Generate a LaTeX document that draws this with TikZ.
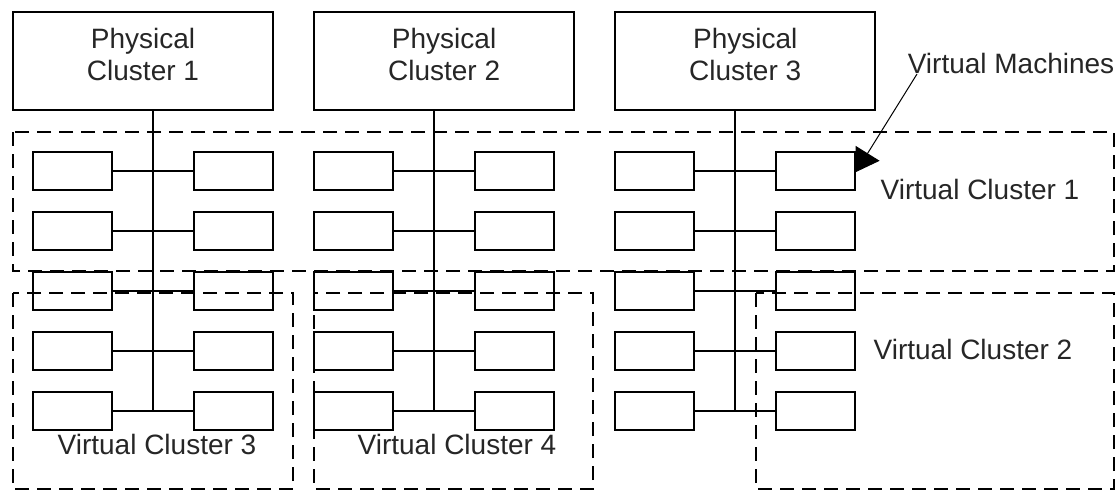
\documentclass[tikz,border=0pt]{standalone}
\usepackage{fontspec}
\setmainfont{Liberation Sans}
\usetikzlibrary{arrows.meta, positioning}

\begin{document}
\begin{tikzpicture}[
    x=1pt, y=-1pt,
    line width=1.6pt,
    text=black!85,
    font=\fontsize{28}{32}\selectfont,
    fisico/.style={draw, rectangle, minimum width=260pt, minimum height=98pt, align=center, text depth=14pt, inner sep=0pt},
    vm/.style={draw, rectangle, minimum width=79pt, minimum height=38pt, inner sep=0pt},
    grupo/.style={draw, dash pattern=on 14pt off 8pt},
    rotulo/.style={inner sep=0pt, anchor=base},
    seta/.style={line width=1pt, -{Triangle[length=22pt, width=28pt]}}
]
    \useasboundingbox (0,0) rectangle (1117,490);

    \node[fisico] (pc1) at (143,61) {Physical\\Cluster 1};
    \node[fisico, right=39.5pt of pc1] (pc2) {Physical\\Cluster 2};
    \node[fisico, right=39.5pt of pc2] (pc3) {Physical\\Cluster 3};

    % maquinas virtuais de cada cluster fisico
    \foreach \c/\bx in {1/153, 2/434, 3/735} {
        \foreach \r/\ry in {1/171, 2/231, 3/291, 4/351, 5/411} {
            \node[vm] (e\c\r) at (\bx-80.5,\ry) {};
            \node[vm] (d\c\r) at (\bx+80.5,\ry) {};
            \draw (e\c\r) -- (d\c\r);
        }
        \coordinate (bus\c) at (\bx,411);
        \draw (pc\c.south -| bus\c) -- (bus\c);
    }

    % clusters virtuais
    \draw[grupo] (13,132) rectangle (1114,271);
    \draw[grupo] (13,293) rectangle (293,489);
    \draw[grupo] (314,293) rectangle (593,489);
    \draw[grupo] (756,293) rectangle (1114,489);

    \node[rotulo] (vc1) at (980,199) {Virtual Cluster 1};
    \node[rotulo] (vc2) at (973,359) {Virtual Cluster 2};
    \node[rotulo] (vc3) at (157,454) {Virtual Cluster 3};
    \node[rotulo] (vc4) at (457,454) {Virtual Cluster 4};

    \node[rotulo, anchor=base west] (vms) at (907,73) {Virtual Machines};
    \coordinate (alvo) at (856,172);
    \draw[seta] ([xshift=10pt, yshift=-1pt]vms.base west) -- (alvo);
\end{tikzpicture}
\end{document}
